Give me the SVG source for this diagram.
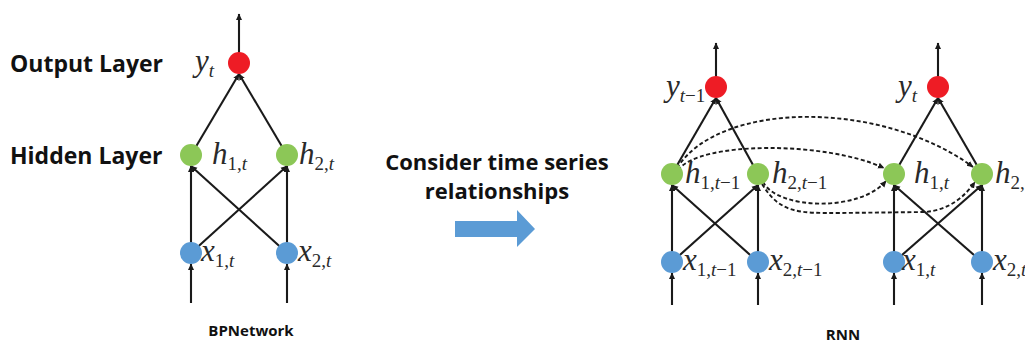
<svg xmlns="http://www.w3.org/2000/svg" width="1025" height="344" viewBox="0 0 1025 344">
<style>
.bg{fill:#ffffff}
.ln{stroke:#1a1a1a;stroke-width:2.1;fill:none}
.ds{stroke:#1a1a1a;stroke-width:1.9;fill:none;stroke-dasharray:4 2.5}
.out{fill:#ee1c25}
.hid{fill:#8cc757}
.inp{fill:#5b9bd5}
.lbl{font-family:"Open Sans","Noto Sans",sans-serif;font-weight:700;fill:#111}
.m{font-family:"Liberation Serif","Times New Roman",serif;font-style:italic;font-size:31px;fill:#2a2a2a}
.s{font-size:19px;font-style:normal}
.i{font-style:italic}
</style>
<defs>
<marker id="ah" markerUnits="userSpaceOnUse" markerWidth="7" markerHeight="7" refX="6" refY="3.5" orient="auto">
<path d="M0,0.5 L6.5,3.5 L0,6.5 z" fill="#1a1a1a"/>
</marker>
</defs>
<rect class="bg" x="0" y="0" width="1025" height="344"/>

<g id="connectors">
<!-- BP network -->
<line class="ln" x1="239" y1="55" x2="239" y2="14" marker-end="url(#ah)"/>
<line class="ln" x1="191" y1="155" x2="239" y2="74" marker-end="url(#ah)"/>
<line class="ln" x1="287" y1="155" x2="239" y2="74" marker-end="url(#ah)"/>
<line class="ln" x1="191" y1="253" x2="191" y2="166" marker-end="url(#ah)"/>
<line class="ln" x1="287" y1="253" x2="191" y2="166" marker-end="url(#ah)"/>
<line class="ln" x1="191" y1="253" x2="287" y2="166" marker-end="url(#ah)"/>
<line class="ln" x1="287" y1="253" x2="287" y2="166" marker-end="url(#ah)"/>
<line class="ln" x1="191" y1="303" x2="191" y2="264" marker-end="url(#ah)"/>
<line class="ln" x1="287" y1="303" x2="287" y2="264" marker-end="url(#ah)"/>
<!-- RNN t-1 -->
<line class="ln" x1="716" y1="80" x2="716" y2="43" marker-end="url(#ah)"/>
<line class="ln" x1="672" y1="174" x2="716" y2="98" marker-end="url(#ah)"/>
<line class="ln" x1="758" y1="174" x2="716" y2="98" marker-end="url(#ah)"/>
<line class="ln" x1="672" y1="262" x2="672" y2="185" marker-end="url(#ah)"/>
<line class="ln" x1="758" y1="262" x2="672" y2="185" marker-end="url(#ah)"/>
<line class="ln" x1="672" y1="262" x2="758" y2="185" marker-end="url(#ah)"/>
<line class="ln" x1="758" y1="262" x2="758" y2="185" marker-end="url(#ah)"/>
<line class="ln" x1="672" y1="305" x2="672" y2="273" marker-end="url(#ah)"/>
<line class="ln" x1="758" y1="305" x2="758" y2="273" marker-end="url(#ah)"/>
<!-- RNN t -->
<line class="ln" x1="938" y1="80" x2="938" y2="43" marker-end="url(#ah)"/>
<line class="ln" x1="894" y1="174" x2="938" y2="98" marker-end="url(#ah)"/>
<line class="ln" x1="982" y1="174" x2="938" y2="98" marker-end="url(#ah)"/>
<line class="ln" x1="894" y1="262" x2="894" y2="185" marker-end="url(#ah)"/>
<line class="ln" x1="982" y1="262" x2="894" y2="185" marker-end="url(#ah)"/>
<line class="ln" x1="894" y1="262" x2="982" y2="185" marker-end="url(#ah)"/>
<line class="ln" x1="982" y1="262" x2="982" y2="185" marker-end="url(#ah)"/>
<line class="ln" x1="894" y1="305" x2="894" y2="273" marker-end="url(#ah)"/>
<line class="ln" x1="982" y1="305" x2="982" y2="273" marker-end="url(#ah)"/>
<!-- recurrent dashed -->
<path class="ds" d="M677,168 C720,100 882,100 973,167" marker-end="url(#ah)"/>
<path class="ds" d="M678,170 C700,141 825,141 884,168" marker-end="url(#ah)"/>
<path class="ds" d="M763,182 C778,210 860,212 886,181" marker-end="url(#ah)"/>
<path class="ds" d="M762,184 C780,214 800,213 840,213 L925,212 C950,210 965,196 975,182" marker-end="url(#ah)"/>
</g>

<g id="bp-network">
<g id="bp-y"><circle class="out" cx="239" cy="63" r="11"/><text class="m" x="195" y="71">y<tspan class="s i" dy="6">t</tspan></text></g>
<g id="bp-h1"><circle class="hid" cx="191" cy="155" r="11"/><text class="m" x="212" y="164">h<tspan class="s" dy="6">1,<tspan class="i">t</tspan></tspan></text></g>
<g id="bp-h2"><circle class="hid" cx="287" cy="155" r="11"/><text class="m" x="299" y="164">h<tspan class="s" dy="6">2,<tspan class="i">t</tspan></tspan></text></g>
<g id="bp-x1"><circle class="inp" cx="191" cy="253" r="11"/><text class="m" x="201" y="261">x<tspan class="s" dy="6">1,<tspan class="i">t</tspan></tspan></text></g>
<g id="bp-x2"><circle class="inp" cx="287" cy="253" r="11"/><text class="m" x="298" y="261">x<tspan class="s" dy="6">2,<tspan class="i">t</tspan></tspan></text></g>
</g>

<g id="rnn-prev">
<g id="r-y0"><circle class="out" cx="716" cy="87" r="11"/><text class="m" x="666" y="96">y<tspan class="s" dy="6"><tspan class="i">t</tspan>−1</tspan></text></g>
<g id="r-h10"><circle class="hid" cx="672" cy="174" r="11"/><text class="m" x="685" y="183">h<tspan class="s" dy="6">1,<tspan class="i">t</tspan>−1</tspan></text></g>
<g id="r-h20"><circle class="hid" cx="758" cy="174" r="11"/><text class="m" x="772" y="183">h<tspan class="s" dy="6">2,<tspan class="i">t</tspan>−1</tspan></text></g>
<g id="r-x10"><circle class="inp" cx="672" cy="262" r="11"/><text class="m" x="683" y="270">x<tspan class="s" dy="6">1,<tspan class="i">t</tspan>−1</tspan></text></g>
<g id="r-x20"><circle class="inp" cx="758" cy="262" r="11"/><text class="m" x="769" y="270">x<tspan class="s" dy="6">2,<tspan class="i">t</tspan>−1</tspan></text></g>
</g>

<g id="rnn-cur">
<g id="r-y1"><circle class="out" cx="938" cy="87" r="11"/><text class="m" x="898" y="96">y<tspan class="s i" dy="6">t</tspan></text></g>
<g id="r-h11"><circle class="hid" cx="894" cy="174" r="11"/><text class="m" x="914" y="183">h<tspan class="s" dy="6">1,<tspan class="i">t</tspan></tspan></text></g>
<g id="r-h21"><circle class="hid" cx="982" cy="174" r="11"/><text class="m" x="995" y="183">h<tspan class="s" dy="6">2,<tspan class="i">t</tspan></tspan></text></g>
<g id="r-x11"><circle class="inp" cx="894" cy="262" r="11"/><text class="m" x="902" y="270">x<tspan class="s" dy="6">1,<tspan class="i">t</tspan></tspan></text></g>
<g id="r-x21"><circle class="inp" cx="982" cy="262" r="11"/><text class="m" x="993" y="270">x<tspan class="s" dy="6">2,<tspan class="i">t</tspan></tspan></text></g>
</g>

<g id="labels">
<text class="lbl" x="10" y="72" font-size="23">Output Layer</text>
<text class="lbl" x="10" y="164" font-size="23">Hidden Layer</text>
<text class="lbl" x="497" y="170" font-size="22" text-anchor="middle">Consider time series</text>
<text class="lbl" x="497" y="199" font-size="22" text-anchor="middle">relationships</text>
<text class="lbl" x="251" y="336" font-size="15" text-anchor="middle">BPNetwork</text>
<text class="lbl" x="843" y="340" font-size="15" text-anchor="middle">RNN</text>
</g>

<g id="transition-arrow">
<polygon points="455,221 517,221 517,210 535,229 517,247 517,237 455,237" fill="#5b9bd5"/>
</g>
</svg>
